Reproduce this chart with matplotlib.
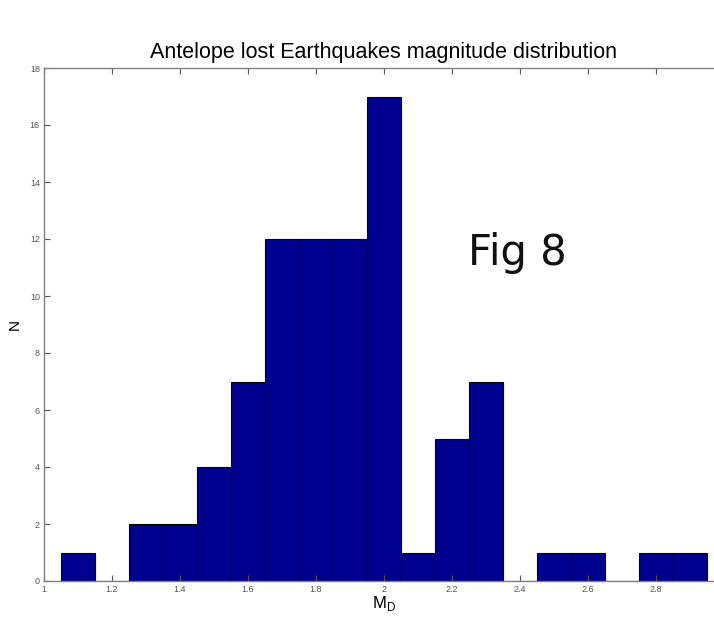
import matplotlib
matplotlib.use("Agg")
import matplotlib.pyplot as plt

# bin centres (M_D) and counts
centres = [1.1, 1.2, 1.3, 1.4, 1.5, 1.6, 1.7, 1.8, 1.9, 2.0,
           2.1, 2.2, 2.3, 2.4, 2.5, 2.6, 2.7, 2.8, 2.9]
counts = [1, 0, 2, 2, 4, 7, 12, 12, 12, 17,
          1, 5, 7, 0, 1, 1, 0, 1, 1]
xticks = [1, 1.2, 1.4, 1.6, 1.8, 2, 2.2, 2.4, 2.6, 2.8]
yticks = list(range(0, 19, 2))

plt.rcParams['font.family'] = ['Liberation Sans', 'DejaVu Sans']

fig = plt.figure(figsize=(7.14, 6.41), dpi=100)
# axes runs to x=3, past the right edge of the picture (cropped)
ax = fig.add_axes([44 / 714, 60 / 641, 680 / 714, 513 / 641])

ax.bar(centres, counts, width=0.1, color='#00008f', edgecolor='black', linewidth=0.8)

ax.set_xlim(1, 3)
ax.set_ylim(0, 18)
ax.set_xticks(xticks)
ax.set_xticklabels(['1', '1.2', '1.4', '1.6', '1.8', '2', '2.2', '2.4', '2.6', '2.8'])
ax.set_yticks(yticks)
ax.tick_params(direction='in', length=4, labelsize=6.5, colors='#555555',
               top=True, right=True, pad=3)
for s in ax.spines.values():
    s.set_color('#808080')
    s.set_linewidth(1)

ax.set_title('Antelope lost Earthquakes magnitude distribution', fontsize=15.5, pad=7)
ax.set_xlabel('M$_\\mathregular{D}$', fontsize=12, labelpad=0)
ax.set_ylabel('N', fontsize=11, labelpad=6)

fig.text(517 / 714, 1 - 253 / 641, 'Fig 8', fontsize=30, ha='center', va='center',
         family=['DejaVu Sans'], color='#111111')

fig.savefig('out.png', dpi=100)
